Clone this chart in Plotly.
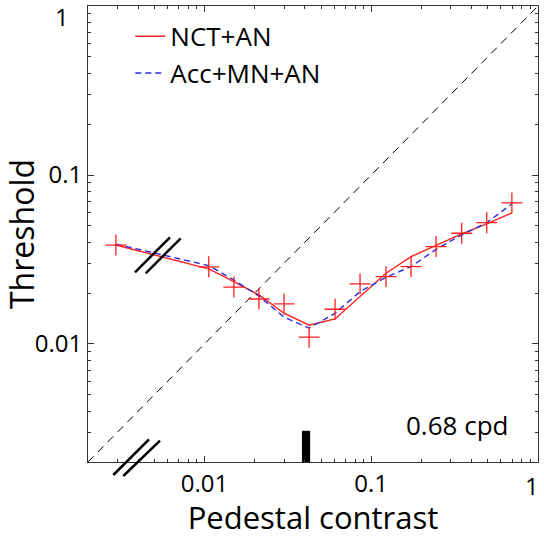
import plotly.graph_objects as go

# ---- data ----
pedestal = [0.00294, 0.0106, 0.0150, 0.0212, 0.0300, 0.0424, 0.0607, 0.0857,
            0.1227, 0.1734, 0.245, 0.349, 0.493, 0.698]
threshold_obs = [0.0385, 0.0286, 0.0217, 0.01845, 0.01724, 0.01096, 0.01604, 0.02265,
                 0.0250, 0.0287, 0.0377, 0.0452, 0.0522, 0.0683]
nct_an = [0.0385, 0.0278, 0.0234, 0.0195, 0.0152, 0.0129, 0.01406, 0.0190,
          0.0262, 0.0329, 0.0385, 0.0448, 0.0513, 0.0596]
acc_mn_an = [0.0390, 0.0291, 0.0239, 0.0192, 0.0144, 0.0124, 0.0152, 0.0204,
             0.0248, 0.0287, 0.0363, 0.0442, 0.0522, 0.0674]
diag = [0.002, 1.0]
bar_x = [0.0384, 0.0430]
bar_y = [0.002, 0.00306]
tick_vals = [0.01, 0.1, 1]
tick_text = ["0.01", "0.1", ""]
minor_vals = [m * 10 ** e for e in (-3, -2, -1) for m in range(2, 10)]
axis_range = [-2.699, 0.0005]

FONT = "Open Sans"

fig = go.Figure()

# identity line
fig.add_trace(go.Scatter(x=diag, y=diag, mode="lines",
                         line=dict(color="black", width=1, dash="8px,6px"),
                         showlegend=False, hoverinfo="skip"))
# models
fig.add_trace(go.Scatter(x=pedestal, y=nct_an, mode="lines", name="NCT+AN",
                         line=dict(color="#ff2020", width=1.4)))
fig.add_trace(go.Scatter(x=pedestal, y=acc_mn_an, mode="lines", name="Acc+MN+AN",
                         line=dict(color="#2a2ae0", width=1.4, dash="6px,4px")))
# data
fig.add_trace(go.Scatter(x=pedestal, y=threshold_obs, mode="markers",
                         marker=dict(symbol="cross-thin", size=15,
                                     line=dict(color="#ff2020", width=1.3)),
                         showlegend=False))
# black bar on bottom axis
fig.add_trace(go.Scatter(x=[bar_x[0], bar_x[1], bar_x[1], bar_x[0], bar_x[0]],
                         y=[bar_y[0], bar_y[0], bar_y[1], bar_y[1], bar_y[0]],
                         mode="lines", fill="toself", fillcolor="black",
                         line=dict(color="black", width=0),
                         showlegend=False, hoverinfo="skip"))
# invisible trace carrying the mirrored (top/right) tick axes
fig.add_trace(go.Scatter(x=diag, y=diag, xaxis="x2", yaxis="y2", mode="lines",
                         line=dict(width=0), opacity=0, showlegend=False,
                         hoverinfo="skip"))

# axis-break marks (paper coordinates)
breaks = [
    (0.1044, 0.416, 0.1822, 0.4928),
    (0.1282, 0.4138, 0.2060, 0.4906),
    (0.0562, -0.0285, 0.1356, 0.0498),
    (0.0784, -0.0307, 0.1600, 0.0467),
]
for x0, y0, x1, y1 in breaks:
    fig.add_shape(type="line", xref="paper", yref="paper", x0=x0, y0=y0, x1=x1, y1=y1,
                  line=dict(color="black", width=2.5))

fig.add_annotation(text="0.68 cpd", xref="paper", yref="paper", x=0.82, y=0.081,
                   xanchor="center", yanchor="middle", showarrow=False,
                   font=dict(family=FONT, size=26, color="black"))
# the "1" labels at the axis ends
fig.add_annotation(text="1", xref="paper", yref="paper", x=-0.058, y=0.978,
                   xanchor="center", yanchor="middle", showarrow=False,
                   font=dict(family=FONT, size=24, color="black"))
fig.add_annotation(text="1", xref="paper", yref="paper", x=0.987, y=-0.0526,
                   xanchor="center", yanchor="middle", showarrow=False,
                   font=dict(family=FONT, size=24, color="black"))

axis_common = dict(
    type="log", range=axis_range, showgrid=False, zeroline=False, showline=True,
    linecolor="#333", linewidth=1, mirror=True, ticks="inside", ticklen=6,
    tickcolor="#333", tickvals=tick_vals, ticktext=tick_text, automargin=False,
    tickfont=dict(family=FONT, size=24, color="black"),
    minor=dict(ticks="inside", ticklen=3, tickcolor="#333", tickvals=minor_vals,
               showgrid=False),
)
mirror_common = dict(
    type="log", range=axis_range, showgrid=False, zeroline=False, showline=False,
    ticks="inside", ticklen=6, tickcolor="#333", tickvals=tick_vals,
    showticklabels=False, automargin=False,
    minor=dict(ticks="inside", ticklen=3, tickcolor="#333", tickvals=minor_vals,
               showgrid=False),
)

fig.update_layout(
    width=544, height=538,
    margin=dict(l=88, r=6, t=6, b=76),
    paper_bgcolor="white", plot_bgcolor="white",
    font=dict(family=FONT, color="black"),
    xaxis=dict(title=dict(text="Pedestal contrast",
               font=dict(family=FONT, size=31), standoff=4), **axis_common),
    yaxis=dict(title=dict(text="Threshold",
               font=dict(family=FONT, size=32), standoff=2), **axis_common),
    xaxis2=dict(overlaying="x", side="top", anchor="y2", **mirror_common),
    yaxis2=dict(overlaying="y", side="right", anchor="x2", **mirror_common),
    legend=dict(x=0.094, y=0.985, xanchor="left", yanchor="top",
                bgcolor="rgba(0,0,0,0)", borderwidth=0,
                font=dict(family=FONT, size=26, color="black"),
                tracegroupgap=0),
    showlegend=True,
)

fig.write_html("out.html", config={"displayModeBar": False},
               post_script="document.body.style.margin='0';document.body.style.padding='0';")
